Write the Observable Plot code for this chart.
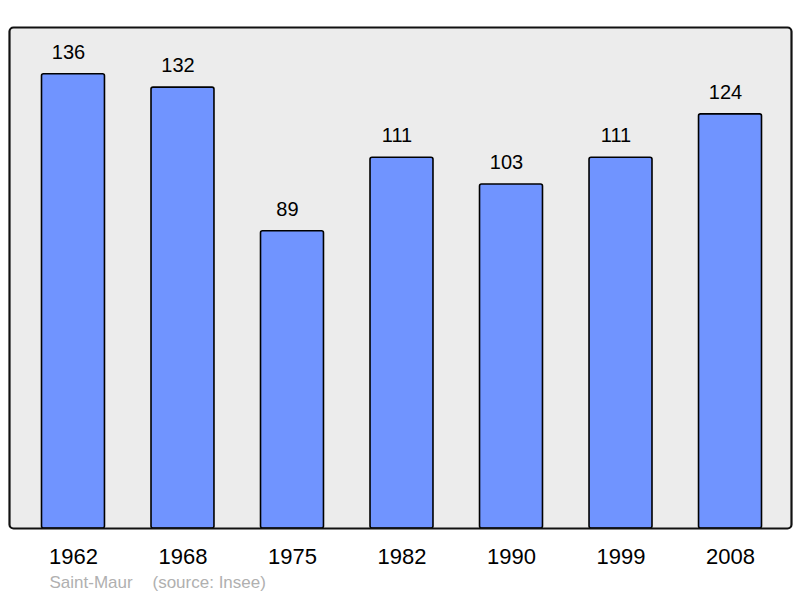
<!DOCTYPE html>
<html>
<head>
<meta charset="utf-8">
<script src="https://cdn.jsdelivr.net/npm/d3@7"></script>
<script src="https://cdn.jsdelivr.net/npm/@observablehq/plot@0.6"></script>
<style>
  html, body { margin: 0; padding: 0; background: #ffffff; }
  #chart svg { display: block; }
</style>
</head>
<body>
<div id="chart"></div>
<script>
const years = ["1962", "1968", "1975", "1982", "1990", "1999", "2008"];
const populations = [136, 132, 89, 111, 103, 111, 124];
const captionPlace = "Saint-Maur";
const captionSource = "(source: Insee)";

const data = years.map((y, i) => ({year: y, value: populations[i]}));
const font = "Liberation Sans, Arial, Helvetica, sans-serif";

const chart = Plot.plot({
  width: 800,
  height: 598,
  marginTop: 27,
  marginBottom: 70,
  marginLeft: 9,
  marginRight: 9,
  style: {fontFamily: font, background: "#ffffff"},
  x: {domain: years, range: [41.5, 761.5], paddingInner: 0.425, paddingOuter: 0, round: false, axis: null},
  y: {domain: [0, 150], axis: null},
  marks: [
    Plot.frame({fill: "#ececec", stroke: null, rx: 4}),
    Plot.barY(data, {x: "year", y: "value", fill: "#7094ff", stroke: "#000000", strokeWidth: 1.6, rx: 2}),
    Plot.frame({stroke: "#111111", strokeWidth: 2.2, rx: 4}),
    Plot.text(data, {x: "year", y: "value", text: d => String(d.value), dx: -5, dy: -22, fontSize: 20, fill: "#000000"}),
    Plot.text(data, {x: "year", y: 0, text: "year", dy: 28, fontSize: 22, fill: "#000000"}),
    Plot.text([captionPlace], {frameAnchor: "bottom-left", text: d => d, dx: 40, dy: 59, fontSize: 17, fill: "#b0b0b0", textAnchor: "start"}),
    Plot.text([captionSource], {frameAnchor: "bottom-left", text: d => d, dx: 143, dy: 59, fontSize: 17, fill: "#b0b0b0", textAnchor: "start"})
  ]
});
document.getElementById("chart").appendChild(chart);
</script>
</body>
</html>
